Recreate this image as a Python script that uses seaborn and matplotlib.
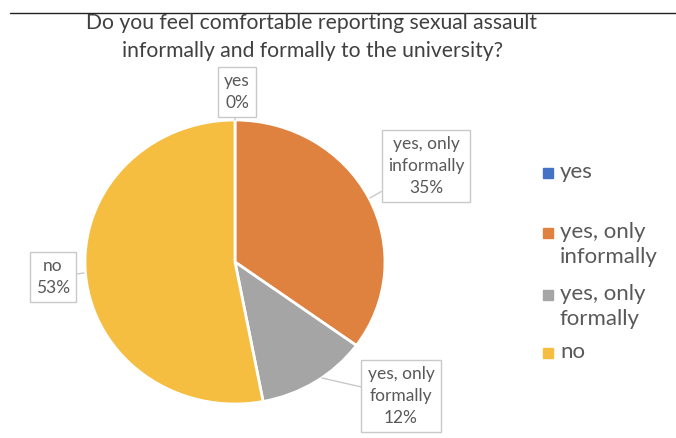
import matplotlib
matplotlib.use("Agg")
import matplotlib.pyplot as plt
import seaborn as sns
from matplotlib.patches import Rectangle

sns.set_theme(style="white")
plt.rcParams['font.family'] = ['Lato', 'DejaVu Sans']

# ---- data ----
categories = ["yes", "yes, only\ninformally", "yes, only\nformally", "no"]
values = [0, 35, 12, 53]
colors = ["#4472C4", "#E0823F", "#A5A5A5", "#F5BE41"]
title = "Do you feel comfortable reporting sexual assault\ninformally and formally to the university?"

W, H = 676, 438
fig = plt.figure(figsize=(W / 100, H / 100), dpi=100)
fig.patch.set_facecolor("white")

# pie axes (pixel box of pie: x 85..385, y 120..404)
ax = fig.add_axes([85 / W, (H - 404) / H, 300 / W, 284 / H])
wedges, _ = ax.pie(values, colors=colors, startangle=90, counterclock=False,
                   wedgeprops=dict(edgecolor="white", linewidth=2))
ax.set_aspect("auto")
ax.set_xlim(-1, 1)
ax.set_ylim(-1, 1)
ax.axis("off")

def px(x, y):
    return ((x - 235) / 150, (262 - y) / 142)

# callout label positions (pixel centres) and pointer tips
label_pos = [(237, 92), (426, 166), (401, 396), (53, 277)]
tips = [(235, 120), (370, 198), (322, 378), (84, 273)]
texts = [f"{c}\n{v}%" for c, v in zip(categories, values)]
for t, lp, tp in zip(texts, label_pos, tips):
    ax.annotate(t, xy=px(*tp), xytext=px(*lp), ha="center", va="center",
                fontsize=12.5, color="#595959", linespacing=1.45,
                annotation_clip=False,
                bbox=dict(boxstyle="square,pad=0.35", fc="white", ec="#C9C9C9", lw=1),
                arrowprops=dict(arrowstyle="-", color="#C9C9C9", lw=1,
                                shrinkA=0, shrinkB=0))

# title
fig.text(312 / W, 1 - 37 / H, title, ha="center", va="center", fontsize=15.2,
         color="#404040", linespacing=1.5)

# top rule
fig.add_artist(plt.Line2D([10 / W, 1], [1 - 13 / H, 1 - 13 / H], color="#222222", lw=1))

# legend
leg_y = [173, 233, 295, 353]
for lab, col, yy in zip(categories, colors, leg_y):
    fig.add_artist(Rectangle((543 / W, 1 - (yy + 5) / H), 10 / W, 10 / H,
                             transform=fig.transFigure, color=col))
    fig.text(560 / W, 1 - (yy - 11) / H, lab, ha="left", va="top", fontsize=16,
             color="#595959", linespacing=1.3)

fig.savefig("out.png", dpi=100, facecolor="white")
